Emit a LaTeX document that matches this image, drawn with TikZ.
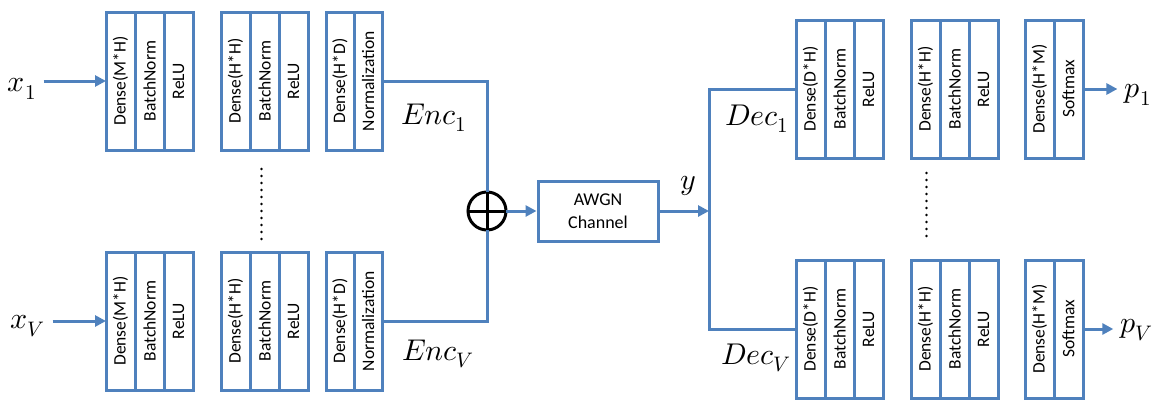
\documentclass[tikz,border=0pt]{standalone}
\usepackage{fontspec}
\usepackage{unicode-math}
\setsansfont{Carlito}
\usetikzlibrary{positioning,arrows.meta}
\definecolor{netblue}{RGB}{79,129,189}
\tikzset{layer/.style={draw=netblue,line width=3pt,fill=white,minimum width=29pt,minimum height=138pt,inner sep=0pt,outer sep=0pt,font=\sffamily\fontsize{17.5}{17.5}\selectfont}}
\tikzset{narrow/.style={layer,minimum width=28pt}}
\tikzset{wire/.style={draw=netblue,line width=3pt}}
\tikzset{flow/.style={wire,-{Triangle[length=11pt,width=11pt]}}}
\tikzset{sym/.style={font=\fontsize{30}{30}\selectfont}}
\tikzset{vdots/.style={line width=2.6pt,line cap=round,dash pattern=on 0pt off 7pt}}
\newcommand{\vtext}[1]{\rotatebox{90}{#1}}

\begin{document}
\begin{tikzpicture}[x=1pt,y=-1pt,node distance=0pt]
\useasboundingbox (0,0) rectangle (1156,402);

%Encoder 1
\node[layer,anchor=north west] (enc1d1) at (106,12) {\vtext{Dense(M*H)}};
\node[layer,right=of enc1d1] (enc1b1) {\vtext{BatchNorm}};
\node[layer,right=of enc1b1] (enc1r1) {\vtext{ReLU}};
\node[layer,anchor=north west] (enc1d2) at (221,12) {\vtext{Dense(H*H)}};
\node[layer,right=of enc1d2] (enc1b2) {\vtext{BatchNorm}};
\node[layer,right=of enc1b2] (enc1r2) {\vtext{ReLU}};
\node[narrow,anchor=north west] (enc1d3) at (326,12) {\vtext{Dense(H*D)}};
\node[narrow,right=of enc1d3] (enc1n3) {\vtext{Normalization}};

%Encoder V
\node[layer,anchor=north west] (encVd1) at (106,252) {\vtext{Dense(M*H)}};
\node[layer,right=of encVd1] (encVb1) {\vtext{BatchNorm}};
\node[layer,right=of encVb1] (encVr1) {\vtext{ReLU}};
\node[layer,anchor=north west] (encVd2) at (221,252) {\vtext{Dense(H*H)}};
\node[layer,right=of encVd2] (encVb2) {\vtext{BatchNorm}};
\node[layer,right=of encVb2] (encVr2) {\vtext{ReLU}};
\node[narrow,anchor=north west] (encVd3) at (326,252) {\vtext{Dense(H*D)}};
\node[narrow,right=of encVd3] (encVn3) {\vtext{Normalization}};

%Decoder 1
\node[layer,anchor=north west] (dec1d1) at (796,20) {\vtext{Dense(D*H)}};
\node[layer,right=of dec1d1] (dec1b1) {\vtext{BatchNorm}};
\node[layer,right=of dec1b1] (dec1r1) {\vtext{ReLU}};
\node[layer,anchor=north west] (dec1d2) at (911,20) {\vtext{Dense(H*H)}};
\node[layer,right=of dec1d2] (dec1b2) {\vtext{BatchNorm}};
\node[layer,right=of dec1b2] (dec1r2) {\vtext{ReLU}};
\node[layer,anchor=north west] (dec1d3) at (1025,20) {\vtext{Dense(H*M)}};
\node[layer,right=of dec1d3] (dec1s3) {\vtext{Softmax}};

%Decoder V
\node[layer,anchor=north west] (decVd1) at (796,260) {\vtext{Dense(D*H)}};
\node[layer,right=of decVd1] (decVb1) {\vtext{BatchNorm}};
\node[layer,right=of decVb1] (decVr1) {\vtext{ReLU}};
\node[layer,anchor=north west] (decVd2) at (911,260) {\vtext{Dense(H*H)}};
\node[layer,right=of decVd2] (decVb2) {\vtext{BatchNorm}};
\node[layer,right=of decVb2] (decVr2) {\vtext{ReLU}};
\node[layer,anchor=north west] (decVd3) at (1025,260) {\vtext{Dense(H*M)}};
\node[layer,right=of decVd3] (decVs3) {\vtext{Softmax}};

%Channel
\node[circle,draw,line width=3pt,minimum size=38pt,inner sep=0pt,outer sep=0pt] (sum) at (487,211) {};
\draw[line width=3pt] (sum.north) -- (sum.south) (sum.west) -- (sum.east);
\node[draw=netblue,line width=3pt,minimum width=120pt,minimum height=60pt,align=center,font=\sffamily\fontsize{18}{23}\selectfont] (awgn) at (598,211) {AWGN\\Channel};
\coordinate (split) at (709,211);

%Labels
\node[sym] (x1) at (22,89) {$x_1$};
\node[sym] (xV) at (28,326) {$x_V$};
\node[sym] (enc1) at (434,118) {$Enc_1$};
\node[sym] (encV) at (438,354) {$Enc_V$};
\node[sym] (y) at (688,186) {$y$};
\node[sym] (dec1) at (757,119) {$Dec_1$};
\node[sym] (decV) at (756,358) {$Dec_V$};
\node[sym] (p1) at (1138,95) {$p_1$};
\node[sym] (pV) at (1137,330) {$p_V$};

%Connections
\draw[flow] ([xshift=4pt]x1.east |- enc1d1.west) -- (enc1d1.west);
\draw[flow] ([xshift=4pt]xV.east |- encVd1.west) -- (encVd1.west);
\draw[wire] (enc1n3.east) -| (sum.north);
\draw[wire] (encVn3.east) -| (sum.south);
\draw[flow] (sum.east) -- (awgn.west);
\draw[flow] (awgn.east) -- (split);
\draw[wire] (dec1d1.west) -| (split) |- (decVd1.west);
\draw[flow] (dec1s3.east) -- ([xshift=-4pt]p1.west |- dec1s3.east);
\draw[flow] (decVs3.east) -- ([xshift=-4pt]pV.west |- decVs3.east);

\draw[vdots] ([xshift=-3pt,yshift=-19pt]enc1b2.south) -- ([xshift=-3pt,yshift=12pt]encVb2.north);
\draw[vdots] ([xshift=1pt,yshift=-15pt]dec1d2.south) -- ([xshift=1pt,yshift=18pt]decVd2.north);

\end{tikzpicture}
\end{document}
